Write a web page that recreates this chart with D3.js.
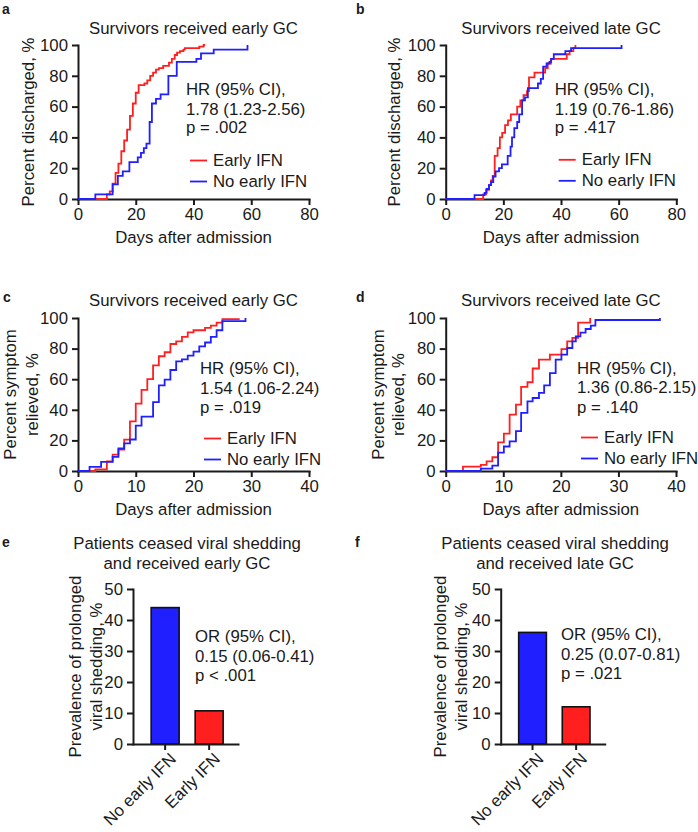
<!DOCTYPE html>
<html><head><meta charset="utf-8">
<script src="https://cdn.jsdelivr.net/npm/d3@7"></script>
<style>
body{margin:0;background:#fff;}
svg{display:block;font-family:"Liberation Sans",Arial,Helvetica,sans-serif;}
</style></head><body>
<svg id="chart" width="698" height="832"></svg>
<script>
// ---------- DATA ----------
const groups = ["Early IFN", "No early IFN"];
const barCategories = ["No early IFN", "Early IFN"];
const yTicksPct = [0, 20, 40, 60, 80, 100];
const xTicksDischarge = [0, 20, 40, 60, 80];
const xTicksSymptom = [0, 10, 20, 30, 40];
const yTicksBar = [0, 10, 20, 30, 40, 50];

// [day, cumulative %]
const aEarlyIFN = [[0,0],[10,3],[11,5],[12,10],[13,17],[14,23],[15,31],[16,38],[17,45],[18,54],[19,62],[20,69],[21,74],[23,75],[24,77],[25,80],[26,82],[27,84],[28,85],[29.5,86.5],[31.5,88.5],[32.5,91],[33.5,93.5],[34.3,95],[35.3,96],[36.5,97],[37,98],[42,99],[43.5,100],[44,100]];
const aNoEarlyIFN = [[0,0],[6,3],[12,9.5],[13.8,15],[15.5,18],[17.8,24],[20.7,27],[21.8,30],[22.8,33],[23.7,36],[24.8,50],[25.6,62],[27,65],[28.6,68],[31.3,80],[34.2,89],[41,91],[42.6,94.5],[47,97],[58.7,100]];
const bEarlyIFN = [[0,0],[13,3],[14,6],[15,9],[15.7,12],[16.3,15],[17,28],[18,33],[18.8,40],[19.6,43],[20.6,48],[21.6,51],[22.6,55],[24.8,60],[25.9,64],[27,67.5],[28.2,70],[28.9,79],[30.8,82],[34.5,85],[35.4,88],[36.5,91],[42,94],[43,96],[44.3,98],[45,100]];
const bNoEarlyIFN = [[0,0],[10,2.5],[13.5,4],[14.2,6.5],[15,9],[15.7,11],[16.5,14.5],[17.3,18],[18.5,20],[19.5,22.5],[21.5,28],[22.5,34],[23,40],[23.8,46],[24.8,50],[25.5,55],[26.5,64],[27.5,66],[28.5,72],[32,75],[33,78],[33.8,86],[35,88],[36,89],[36.6,91],[37.5,94],[41.5,96],[43.5,98],[61,100]];
const cEarlyIFN = [[0,0],[3,1],[5,6.3],[6,10.7],[7,14],[8,20.5],[9,32.5],[10,44],[11,53],[12,60],[13,69],[14,75],[15,77.6],[16,83],[17,84.7],[18,87.6],[19,90.6],[20,92],[22,93.5],[23,95],[24,97],[25,99.3],[28,99.3]];
const cNoEarlyIFN = [[0,0],[2,2.7],[4,6],[6,9.2],[7,14.7],[8,18],[9,20.6],[10,29.6],[11,35.5],[13,45],[14,56],[15,59.7],[16,66],[17,71.7],[18,73],[19,75.4],[20,78],[21,81.5],[22,84],[23,87.6],[24,92],[25,98],[29,100]];
const dEarlyIFN = [[0,0],[3,2.8],[6.1,4],[7.1,6.3],[8.1,9],[9.1,18.7],[10.1,24.4],[11.1,36.8],[12.2,43.4],[13.1,55],[14.2,58],[15.1,67],[16.2,72.8],[18.1,76],[20.1,79.7],[21.1,84.7],[22,87],[23,97],[25.1,100]];
const dNoEarlyIFN = [[0,0],[6.1,1.5],[8.1,3.5],[9.1,12],[10.1,16],[11.1,19.4],[12.2,26],[13.1,38],[14.2,45.5],[15.1,47.7],[16.2,51],[17.1,56],[18.1,64],[19.1,72.8],[20.1,76],[21.1,80.4],[22,84.7],[22.6,88],[23.4,90.5],[24.3,92.8],[25.2,95],[26,98.7],[37.2,100]];

const eBarValues = [44, 10.7];
const fBarValues = [36, 12];

const titles = {
  a: ["Survivors received early GC"], b: ["Survivors received late GC"],
  c: ["Survivors received early GC"], d: ["Survivors received late GC"],
  e: ["Patients ceased viral shedding", "and received early GC"],
  f: ["Patients ceased viral shedding", "and received late GC"]
};
const yLabels = {
  discharge: ["Percent discharged, %"],
  symptom: ["Percent symptom", "relieved, %"],
  shedding: ["Prevalence of prolonged", "viral shedding, %"]
};
const xLabel = "Days after admission";
const stats = {
  a: ["HR (95% CI),", "1.78 (1.23-2.56)", "p = .002"],
  b: ["HR (95% CI),", "1.19 (0.76-1.86)", "p = .417"],
  c: ["HR (95% CI),", "1.54 (1.06-2.24)", "p = .019"],
  d: ["HR (95% CI),", "1.36 (0.86-2.15)", "p = .140"],
  e: ["OR (95% CI),", "0.15 (0.06-0.41)", "p < .001"],
  f: ["OR (95% CI),", "0.25 (0.07-0.81)", "p = .021"]
};

// ---------- STYLE ----------
const RED = "#ff1f1f", BLUE = "#1f1fff", INK = "#1a1a1a";
const FS = 16.8;
const svg = d3.select("#chart");

function styleAxis(sel) {
  sel.select(".domain").attr("stroke", INK).attr("stroke-width", 2).attr("stroke-linecap", "square");
  sel.selectAll(".tick line").attr("stroke", INK).attr("stroke-width", 2);
  sel.selectAll(".tick text").attr("fill", INK).style("font-size", FS + "px").style("font-family", '"Liberation Sans",Arial,sans-serif');
}

function txt(x, y, s, opts = {}) {
  const t = svg.append("text").attr("x", x).attr("y", y).text(s)
    .attr("fill", INK).style("font-size", (opts.size || FS) + "px");
  if (opts.anchor) t.attr("text-anchor", opts.anchor);
  if (opts.bold) t.style("font-weight", "bold");
  return t;
}

function yTitle(lines, baselines, cy) {
  lines.forEach((s, i) => {
    svg.append("text").attr("transform", `translate(${baselines[i]},${cy}) rotate(-90)`)
      .attr("text-anchor", "middle").attr("fill", INK).style("font-size", FS + "px").text(s);
  });
}

function kmPanel(cfg) {
  const x = d3.scaleLinear().domain([0, cfg.xMax]).range([cfg.left, cfg.right]);
  const y = d3.scaleLinear().domain([0, 100]).range([cfg.bottom, cfg.top]);
  const xa = svg.append("g").attr("transform", `translate(0,${cfg.bottom})`)
    .call(d3.axisBottom(x).tickValues(cfg.xTicks).tickSize(6).tickSizeOuter(0).tickPadding(3));
  styleAxis(xa);
  const ya = svg.append("g").attr("transform", `translate(${cfg.left},0)`)
    .call(d3.axisLeft(y).tickValues(yTicksPct).tickSize(6).tickSizeOuter(0).tickPadding(4));
  styleAxis(ya);

  const line = d3.line().x(d => x(d[0])).y(d => y(d[1])).curve(d3.curveStepAfter);
  [[cfg.early, RED], [cfg.noEarly, BLUE]].forEach(([data, col]) => {
    svg.append("path").datum(data).attr("d", line).attr("fill", "none")
      .attr("stroke", col).attr("stroke-width", 1.8).attr("stroke-linejoin", "miter");
  });

  const cx = (cfg.left + cfg.right) / 2;
  cfg.title.forEach((s, i) => txt(cx, cfg.titleY + i * 20, s, { anchor: "middle" }));
  txt(cx, cfg.bottom + 44, xLabel, { anchor: "middle" });
  yTitle(cfg.yLabel, cfg.yLabelX, (cfg.top + cfg.bottom) / 2);
  txt(cfg.letterX, cfg.letterY, cfg.letter, { bold: true, size: 14 });
  cfg.stats.forEach((s, i) => txt(cfg.statX, cfg.statY[i], s));
  [[groups[0], RED], [groups[1], BLUE]].forEach(([name, col], i) => {
    const ly = cfg.legY + i * 21;
    svg.append("line").attr("x1", cfg.statX + 4).attr("x2", cfg.statX + 21)
      .attr("y1", ly).attr("y2", ly).attr("stroke", col).attr("stroke-width", 1.8);
    txt(cfg.statX + 27, ly + 5, name);
  });
}

function barPanel(cfg) {
  const x = d3.scaleBand().domain(barCategories).range([cfg.left, cfg.right])
    .paddingInner(0.364).paddingOuter(0.375).align(0.55);
  const y = d3.scaleLinear().domain([0, 50]).range([cfg.bottom, cfg.top]);
  const cols = [BLUE, RED];
  svg.append("g").selectAll("rect").data(cfg.values).join("rect")
    .attr("x", (d, i) => x(barCategories[i]))
    .attr("y", d => y(d))
    .attr("width", x.bandwidth())
    .attr("height", d => y(0) - y(d))
    .attr("fill", (d, i) => cols[i]).attr("stroke", "#111").attr("stroke-width", 1.6);

  const xa = svg.append("g").attr("transform", `translate(0,${cfg.bottom})`)
    .call(d3.axisBottom(x).tickSize(6).tickSizeOuter(0));
  styleAxis(xa);
  xa.selectAll(".tick text").remove();
  const ya = svg.append("g").attr("transform", `translate(${cfg.left},0)`)
    .call(d3.axisLeft(y).tickValues(yTicksBar).tickSize(6).tickSizeOuter(0).tickPadding(4));
  styleAxis(ya);

  barCategories.forEach(c => {
    const tx = x(c) + x.bandwidth() / 2 + 12, ty = cfg.bottom + 16;
    svg.append("text").attr("transform", `translate(${tx},${ty}) rotate(-45)`)
      .attr("text-anchor", "end").attr("fill", INK).style("font-size", FS + "px").text(c);
  });

  cfg.title.forEach((s, i) => txt(cfg.titleX, cfg.titleY + i * 20, s, { anchor: "middle" }));
  yTitle(cfg.yLabel, cfg.yLabelX, (cfg.top + cfg.bottom) / 2);
  txt(cfg.letterX, cfg.letterY, cfg.letter, { bold: true, size: 14 });
  cfg.stats.forEach((s, i) => txt(cfg.statX, cfg.statY[i], s));
}

kmPanel({ letter: "a", letterX: 2, letterY: 14, left: 78, right: 309, top: 45, bottom: 199, xMax: 80,
  xTicks: xTicksDischarge, early: aEarlyIFN, noEarly: aNoEarlyIFN, title: titles.a, titleY: 33.5,
  yLabel: yLabels.discharge, yLabelX: [34], stats: stats.a, statX: 186, statY: [95, 114.5, 133], legY: 160.5 });
kmPanel({ letter: "b", letterX: 356, letterY: 14, left: 445.7, right: 676.3, top: 45, bottom: 199, xMax: 80,
  xTicks: xTicksDischarge, early: bEarlyIFN, noEarly: bNoEarlyIFN, title: titles.b, titleY: 33.5,
  yLabel: yLabels.discharge, yLabelX: [400], stats: stats.b, statX: 554.7, statY: [95, 114.5, 133], legY: 159.8 });
kmPanel({ letter: "c", letterX: 3, letterY: 302, left: 78, right: 309, top: 318, bottom: 471, xMax: 40,
  xTicks: xTicksSymptom, early: cEarlyIFN, noEarly: cNoEarlyIFN, title: titles.c, titleY: 306,
  yLabel: yLabels.symptom, yLabelX: [16, 37.5], stats: stats.c, statX: 200, statY: [374, 393.5, 413], legY: 438.5 });
kmPanel({ letter: "d", letterX: 356, letterY: 302, left: 445.7, right: 676, top: 318, bottom: 471, xMax: 40,
  xTicks: xTicksSymptom, early: dEarlyIFN, noEarly: dNoEarlyIFN, title: titles.d, titleY: 306,
  yLabel: yLabels.symptom, yLabelX: [383.5, 404], stats: stats.d, statX: 577, statY: [373.5, 393, 412.5], legY: 437.5 });

barPanel({ letter: "e", letterX: 2, letterY: 547, left: 133, right: 238, top: 589, bottom: 744,
  values: eBarValues, title: titles.e, titleX: 187, titleY: 549, yLabel: yLabels.shedding, yLabelX: [80.5, 102],
  stats: stats.e, statX: 195, statY: [642, 662, 681] });
barPanel({ letter: "f", letterX: 355, letterY: 547, left: 500.7, right: 604.7, top: 589, bottom: 744,
  values: fBarValues, title: titles.f, titleX: 555, titleY: 549, yLabel: yLabels.shedding, yLabelX: [445.5, 467],
  stats: stats.f, statX: 561, statY: [640, 660, 679] });
</script>
</body></html>
